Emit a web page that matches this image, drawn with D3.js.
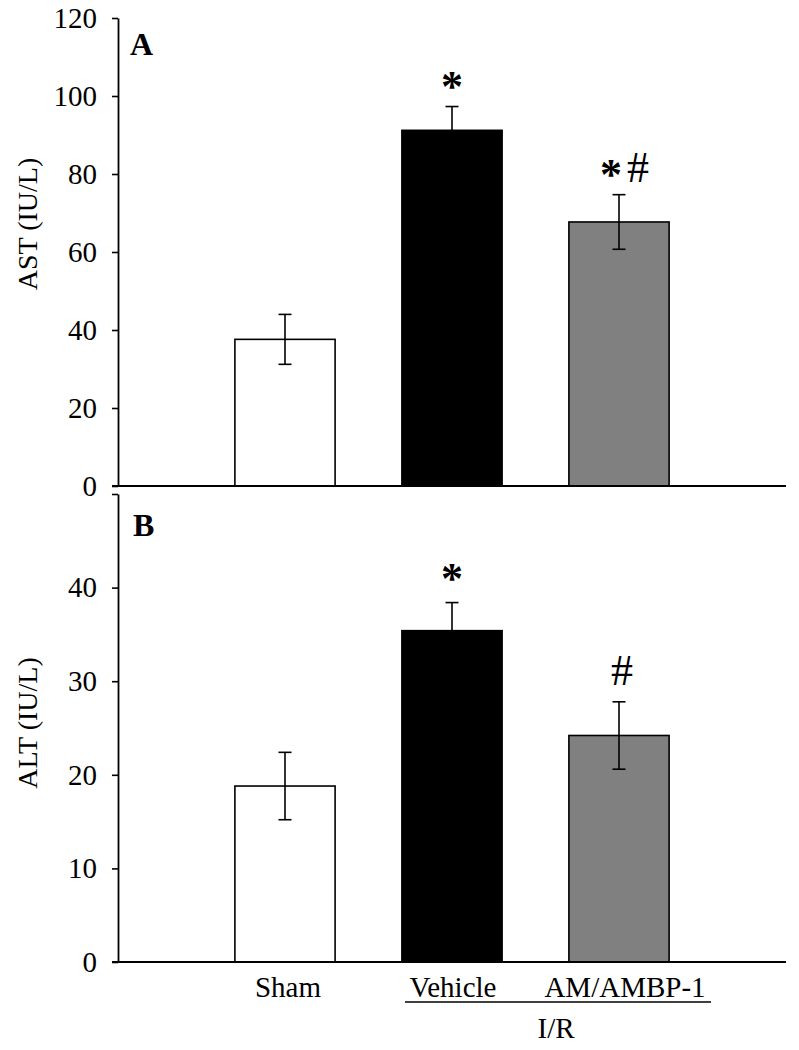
<!DOCTYPE html>
<html>
<head>
<meta charset="utf-8">
<script src="https://cdn.jsdelivr.net/npm/d3@7"></script>
<style>
  html, body { margin: 0; padding: 0; background: #fff; }
  svg { display: block; }
  text { font-family: "Liberation Serif", "Times New Roman", serif; fill: #000; }
</style>
</head>
<body>
<svg id="chart" width="799" height="1050"></svg>
<script>
// ---- data ----
const categories = ["Sham", "Vehicle", "AM/AMBP-1"];
const barColors = ["#ffffff", "#000000", "#808080"];
const astValues = [37.6, 91.2, 67.7];
const astErrors = [6.4, 6.1, 7.0];
const altValues = [18.8, 35.4, 24.2];
const altErrors = [3.6, 3.0, 3.6];
const astTicks = [0, 20, 40, 60, 80, 100, 120];
const altTicks = [0, 10, 20, 30, 40, 50];
const altTickLabels = ["0", "10", "20", "30", "40", ""];
const astSig = ["", "*", "*#"];
const altSig = ["", "*", "#"];
const groupLabel = "I/R";

const svg = d3.select("#chart");

const x = d3.scaleBand().domain(categories).range([201.5, 702.5]).paddingInner(0.4).paddingOuter(0.2);
const axisLeft = 118, axisRight = 786;

const panels = [
  { letter: "A", label: "AST (IU/L)", values: astValues, errors: astErrors, ticks: astTicks,
    tickLabels: astTicks.map(String), domain: [0, 120], range: [486, 18], sig: astSig,
    labelY: 224, letterX: 130, letterY: 55, sigGap: 27 },
  { letter: "B", label: "ALT (IU/L)", values: altValues, errors: altErrors, ticks: altTicks,
    tickLabels: altTickLabels, domain: [0, 50], range: [962, 494], sig: altSig,
    labelY: 723, letterX: 133, letterY: 536, sigGap: 31 }
];

panels.forEach(p => {
  const y = d3.scaleLinear().domain(p.domain).range(p.range);
  const g = svg.append("g");

  // bars
  g.selectAll("rect.bar").data(categories).join("rect")
    .attr("class", "bar")
    .attr("x", d => x(d))
    .attr("width", x.bandwidth())
    .attr("y", (d, i) => y(p.values[i]))
    .attr("height", (d, i) => y(0) - y(p.values[i]))
    .attr("fill", (d, i) => barColors[i])
    .attr("stroke", "#000")
    .attr("stroke-width", 1.6);

  // error bars
  const capW = 13;
  categories.forEach((c, i) => {
    const cx = x(c) + x.bandwidth() / 2;
    const hi = y(p.values[i] + p.errors[i]);
    const lo = y(p.values[i] - p.errors[i]);
    const col = "#000";
    g.append("line").attr("x1", cx).attr("x2", cx).attr("y1", hi).attr("y2", lo)
      .attr("stroke", col).attr("stroke-width", 1.6);
    [hi, lo].forEach(yy => g.append("line")
      .attr("x1", cx - capW / 2).attr("x2", cx + capW / 2).attr("y1", yy).attr("y2", yy)
      .attr("stroke", col).attr("stroke-width", 1.6));

    // significance markers
    const s = p.sig[i];
    if (s) {
      const cy = hi - p.sigGap;
      const chars = s.split("");
      const offsets = chars.length === 2 ? [-8, 19] : [0];
      chars.forEach((ch, k) => {
        const xx = cx + offsets[k] + (ch === "#" && chars.length === 1 ? 3 : 0);
        if (ch === "*") {
          g.append("text").attr("x", xx).attr("y", cy + 0.48 * 44)
            .attr("text-anchor", "middle").attr("font-size", 44).attr("font-weight", "bold").text("*");
        } else {
          g.append("text").attr("x", xx).attr("y", cy + 0.32 * 44)
            .attr("text-anchor", "middle").attr("font-size", 44).text("#");
        }
      });
    }
  });

  // y axis
  const ya = d3.axisLeft(y).tickValues(p.ticks).tickFormat((d, i) => p.tickLabels[i])
    .tickSize(6).tickPadding(15).tickSizeOuter(0);
  const yg = svg.append("g").attr("transform", `translate(${axisLeft},0)`).call(ya);
  yg.select(".domain").attr("stroke-width", 1.8);
  yg.selectAll(".tick line").attr("stroke-width", 1.6);
  yg.selectAll(".tick text").attr("font-size", 29).attr("font-family", "Liberation Serif, serif");

  // x axis line
  svg.append("line").attr("x1", axisLeft - 6).attr("x2", axisRight)
    .attr("y1", y(0)).attr("y2", y(0)).attr("stroke", "#000").attr("stroke-width", 2);

  // y label
  svg.append("text").attr("transform", `translate(37,${p.labelY}) rotate(-90)`)
    .attr("text-anchor", "middle").attr("font-size", 28).text(p.label);

  // panel letter
  svg.append("text").attr("x", p.letterX).attr("y", p.letterY)
    .attr("font-size", 32).attr("font-weight", "bold").text(p.letter);
});

// category labels
const labelOffsets = [3, 1, 6];
svg.selectAll("text.cat").data(categories).join("text")
  .attr("class", "cat")
  .attr("x", (d, i) => x(d) + x.bandwidth() / 2 + labelOffsets[i])
  .attr("y", 997)
  .attr("text-anchor", "middle").attr("font-size", 29).text(d => d);

// group underline and label
svg.append("line").attr("x1", 405).attr("x2", 711).attr("y1", 1002).attr("y2", 1002)
  .attr("stroke", "#000").attr("stroke-width", 1.6);
svg.append("text").attr("x", 556).attr("y", 1038).attr("text-anchor", "middle")
  .attr("font-size", 29).text(groupLabel);
</script>
</body>
</html>
